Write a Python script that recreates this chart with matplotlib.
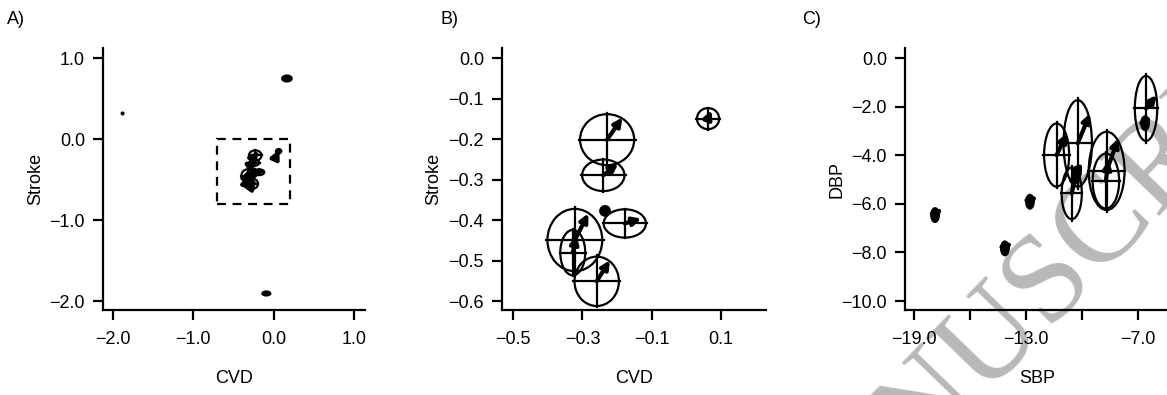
import matplotlib
matplotlib.use("Agg")
import matplotlib.pyplot as plt
from matplotlib.patches import Ellipse, Rectangle
from matplotlib.ticker import FuncFormatter

plt.rcParams['font.family'] = ['Liberation Sans', 'DejaVu Sans']
plt.rcParams['font.size'] = 13

# CVD vs Stroke ellipses (centre, half widths, arrow end)
cvd_x = [-0.229, -0.240, -0.178, -0.322, -0.328, -0.259, 0.062]
stroke_y = [-0.201, -0.289, -0.408, -0.449, -0.480, -0.551, -0.149]
cvd_hw = [0.078, 0.061, 0.061, 0.079, 0.036, 0.064, 0.032]
stroke_hh = [0.063, 0.039, 0.035, 0.077, 0.056, 0.061, 0.026]
cvd_x2 = [-0.185, -0.197, -0.130, -0.283, -0.317, -0.221, 0.072]
stroke_y2 = [-0.146, -0.260, -0.396, -0.383, -0.437, -0.499, -0.128]

# small filled estimates
dot_cvd = [-0.235, -1.88, 0.165, -0.091]
dot_stroke = [-0.377, 0.317, 0.749, -1.905]
dot_cvd_hw = [0.014, 0.012, 0.06, 0.05]
dot_stroke_hh = [0.012, 0.012, 0.037, 0.025]

# zoom box of panel B
box_cvd = [-0.7, 0.2]
box_stroke = [-0.8, 0.0]

# SBP vs DBP ellipses
sbp_x = [-11.36, -10.23, -10.55, -8.68, -8.72, -6.57]
dbp_y = [-3.99, -3.51, -5.57, -4.64, -5.06, -2.07]
sbp_hw = [0.67, 0.76, 0.54, 0.96, 0.71, 0.60]
dbp_hh = [1.30, 1.78, 1.06, 1.61, 1.13, 1.34]
sbp_x2 = [-10.82, -9.57, -10.28, -8.05, -8.59, -6.00]
dbp_y2 = [-3.10, -2.28, -4.61, -3.30, -4.20, -1.52]

blob_sbp = [-17.87, -14.13, -12.79, -10.30, -6.62]
blob_dbp = [-6.46, -7.83, -5.91, -4.75, -2.68]
blob_sbp2 = [-17.50, -13.75, -12.40, -10.00, -6.35]
blob_dbp2 = [-6.15, -7.55, -5.65, -4.30, -2.35]


def draw_ellipses(ax, xs, ys, hws, hhs, x2s, y2s):
    for x, y, hw, hh, x2, y2 in zip(xs, ys, hws, hhs, x2s, y2s):
        ax.add_patch(Ellipse((x, y), 2 * hw, 2 * hh, fill=False, lw=1.6, color='k'))
        ax.plot([x - hw * 1.05, x + hw * 1.05], [y, y], color='k', lw=1.6)
        ax.plot([x, x], [y - hh * 1.05, y + hh * 1.05], color='k', lw=1.6)
        ax.annotate('', xy=(x2, y2), xytext=(x, y),
                    arrowprops=dict(arrowstyle='-|>', lw=3, color='k',
                                    mutation_scale=12, shrinkA=0, shrinkB=0))


def draw_dots(ax, xs, ys, hws, hhs):
    for x, y, hw, hh in zip(xs, ys, hws, hhs):
        ax.add_patch(Ellipse((x, y), 2 * hw, 2 * hh, color='k', lw=1.5))


def fmt(v, pos):
    return ('%.1f' % v).replace('-', '\u2212')


def style(ax):
    ax.set_facecolor('none')
    for s in ['top', 'right']:
        ax.spines[s].set_visible(False)
    for s in ['left', 'bottom']:
        ax.spines[s].set_linewidth(1.6)
    ax.tick_params(length=7, width=1.6, labelsize=13)
    ax.tick_params(axis='x', pad=8)
    ax.tick_params(axis='y', pad=6)


fig = plt.figure(figsize=(11.67, 3.95), dpi=100)

# watermark behind the panels
fig.text(0.6651, -0.5425, 'MANUSCRIPT', rotation=46, rotation_mode='anchor',
         ha='left', va='baseline', fontsize=92, color='#b8b8b8',
         family='Liberation Serif', zorder=-10)

H = 0.663
B0 = 0.215
axA = fig.add_axes([103 / 1167, B0, 262 / 1167, H])
axB = fig.add_axes([502 / 1167, B0, 264 / 1167, H])
axC = fig.add_axes([905 / 1167, B0, 264 / 1167, H])

# Panel A
draw_ellipses(axA, cvd_x, stroke_y, cvd_hw, stroke_hh, cvd_x2, stroke_y2)
draw_dots(axA, dot_cvd, dot_stroke, dot_cvd_hw, dot_stroke_hh)
axA.add_patch(Rectangle((box_cvd[0], box_stroke[0]), box_cvd[1] - box_cvd[0],
                        box_stroke[1] - box_stroke[0], fill=False, lw=1.6,
                        ls=(0, (4, 3)), color='k'))
axA.set_xlim(-2.124, 1.137)
axA.set_ylim(-2.11, 1.123)
axA.set_xticks([-2, -1, 0, 1])
axA.set_yticks([1, 0, -1, -2])
axA.set_xlabel('CVD')
axA.set_ylabel('Stroke')

# Panel B
draw_ellipses(axB, cvd_x, stroke_y, cvd_hw, stroke_hh, cvd_x2, stroke_y2)
draw_dots(axB, dot_cvd[:1], dot_stroke[:1], dot_cvd_hw[:1], dot_stroke_hh[:1])
axB.set_xlim(-0.532, 0.229)
axB.set_ylim(-0.622, 0.025)
axB.set_xticks([-0.5, -0.3, -0.1, 0.1])
axB.set_yticks([0.0, -0.1, -0.2, -0.3, -0.4, -0.5, -0.6])
axB.set_xlabel('CVD')
axB.set_ylabel('Stroke')

# Panel C
draw_ellipses(axC, sbp_x, dbp_y, sbp_hw, dbp_hh, sbp_x2, dbp_y2)
for x, y, x2, y2 in zip(blob_sbp, blob_dbp, blob_sbp2, blob_dbp2):
    axC.add_patch(Ellipse((x, y), 0.45, 0.6, color='k'))
    axC.annotate('', xy=(x2, y2), xytext=(x, y),
                 arrowprops=dict(arrowstyle='-|>', lw=3, color='k',
                                 mutation_scale=12, shrinkA=0, shrinkB=0))
axC.set_xlim(-19.48, -5.34)
axC.set_ylim(-10.37, 0.41)
axC.set_xticks([-19, -16, -13, -10, -7])
axC.set_yticks([0, -2, -4, -6, -8, -10])
axC.set_xlabel('SBP')
axC.set_ylabel('DBP')

for ax in [axA, axB, axC]:
    style(ax)
    ax.yaxis.set_major_formatter(FuncFormatter(fmt))
    ax.xaxis.set_major_formatter(FuncFormatter(fmt))
    ax.xaxis.label.set_va('center')
    ax.yaxis.label.set_va('center')
    ax.xaxis.set_label_coords(0.5, -68 / 262)
    ax.yaxis.set_label_coords(-68 / 264, 0.5)
axC.set_xticklabels(['\u221219.0', '', '\u221213.0', '', '\u22127.0'])

fig.text(7 / 1167, 1 - 19 / 395, 'A)', va='center', ha='left', fontsize=13)
fig.text(440 / 1167, 1 - 19 / 395, 'B)', va='center', ha='left', fontsize=13)
fig.text(802 / 1167, 1 - 19 / 395, 'C)', va='center', ha='left', fontsize=13)

fig.savefig('out.png', dpi=100)
